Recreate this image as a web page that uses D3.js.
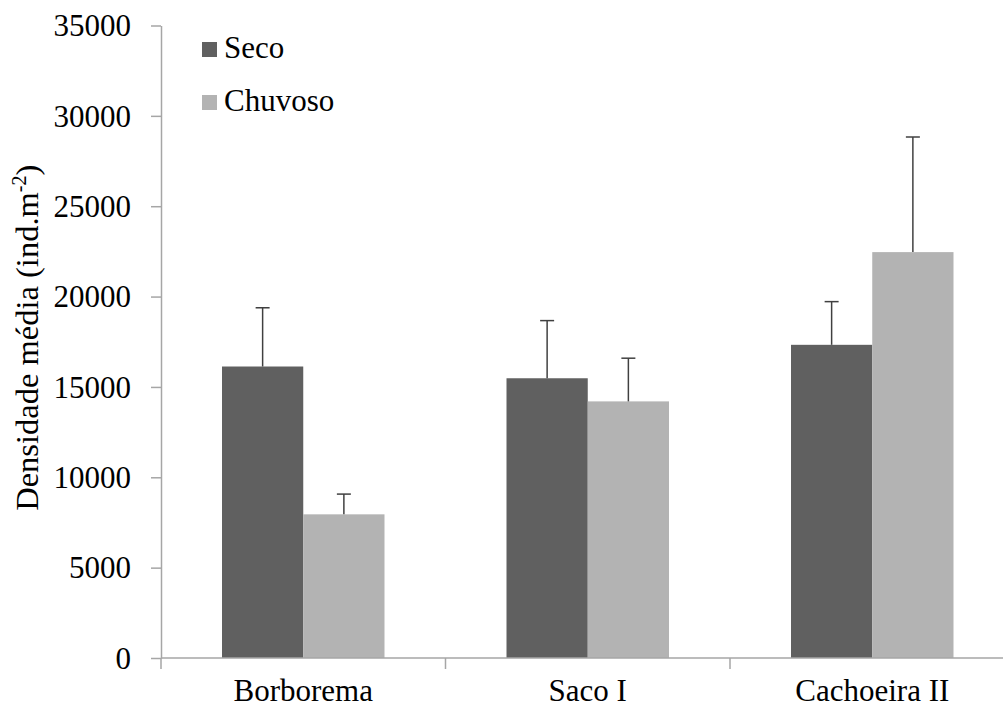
<!DOCTYPE html>
<html lang="pt">
  <head>
    <meta charset="utf-8" />
    <title>Densidade média</title>
    <script src="https://d3js.org/d3.v7.min.js"></script>
    <style>
      body {
        margin: 0;
        background: #fff;
      }
      svg {
        display: block;
        font-family: "Liberation Serif", "Times New Roman", serif;
      }
      .axis path,
      .axis line {
        stroke: #a6a6a6;
        stroke-width: 1.5px;
      }
      .axis text {
        font-family: "Liberation Serif", "Times New Roman", serif;
        font-size: 31px;
        fill: #000;
      }
    </style>
  </head>
  <body>
    <svg id="chart" width="1003" height="707"></svg>
    <script>
      // dados
      const sites = ["Borborema", "Saco I", "Cachoeira II"];
      const series = ["Seco", "Chuvoso"];
      const seco = [16130, 15480, 17330];
      const secoErr = [3250, 3190, 2390];
      const chuvoso = [7950, 14200, 22460];
      const chuvosoErr = [1120, 2390, 6370];
      const yTicks = [0, 5000, 10000, 15000, 20000, 25000, 30000, 35000];
      const colors = { Seco: "#606060", Chuvoso: "#b3b3b3" };

      const svg = d3.select("#chart");
      const mLeft = 161, mBottom = 658, mTop = 25.5, step = 284.5;

      const rows = sites.map((s, i) => ({
        site: s,
        bars: [
          { key: "Seco", value: seco[i], err: secoErr[i] },
          { key: "Chuvoso", value: chuvoso[i], err: chuvosoErr[i] },
        ],
      }));

      const x0 = d3.scaleBand().domain(sites).range([mLeft, mLeft + step * 3]);
      const x1 = d3.scaleBand().domain(series).range([61, 223.5]);
      const y = d3.scaleLinear().domain([0, 35000]).range([mBottom, mTop]);

      // eixo Y
      const yAxis = svg
        .append("g")
        .attr("class", "axis")
        .attr("transform", `translate(${mLeft},0)`)
        .call(d3.axisLeft(y).tickValues(yTicks).tickSize(10).tickSizeOuter(0).tickPadding(20).tickFormat(d3.format("d")));
      yAxis.selectAll("text").attr("dy", "0.33em");

      // barras
      const g = svg
        .append("g")
        .selectAll("g")
        .data(rows)
        .join("g")
        .attr("transform", (d) => `translate(${x0(d.site)},0)`);

      g.selectAll("rect")
        .data((d) => d.bars)
        .join("rect")
        .attr("x", (d) => x1(d.key))
        .attr("width", x1.bandwidth())
        .attr("y", (d) => y(d.value))
        .attr("height", (d) => y(0) - y(d.value))
        .attr("fill", (d) => colors[d.key]);

      // barras de erro
      const eb = g
        .selectAll("g.err")
        .data((d) => d.bars)
        .join("g")
        .attr("class", "err")
        .attr("stroke", "#404040")
        .attr("stroke-width", 1.5);
      eb.append("line")
        .attr("x1", (d) => x1(d.key) + x1.bandwidth() / 2)
        .attr("x2", (d) => x1(d.key) + x1.bandwidth() / 2)
        .attr("y1", (d) => y(d.value))
        .attr("y2", (d) => y(d.value + d.err));
      eb.append("line")
        .attr("x1", (d) => x1(d.key) + x1.bandwidth() / 2 - 7)
        .attr("x2", (d) => x1(d.key) + x1.bandwidth() / 2 + 7)
        .attr("y1", (d) => y(d.value + d.err))
        .attr("y2", (d) => y(d.value + d.err));

      // eixo X
      const xAxis = svg
        .append("g")
        .attr("class", "axis")
        .attr("transform", `translate(0,${mBottom})`)
        .call(d3.axisBottom(x0).tickSize(0).tickPadding(21));
      xAxis.select(".domain").attr("d", `M${mLeft},0H${mLeft + step * 3}`);
      xAxis
        .selectAll(".sep")
        .data(d3.range(4))
        .join("line")
        .attr("class", "sep")
        .attr("x1", (i) => mLeft + i * step)
        .attr("x2", (i) => mLeft + i * step)
        .attr("y1", 0)
        .attr("y2", 11);

      // título do eixo Y
      const yl = svg
        .append("text")
        .attr("transform", `translate(38,${(mTop + mBottom) / 2 - 4}) rotate(-90)`)
        .attr("text-anchor", "middle")
        .attr("font-size", 32.5)
        .text("Densidade média (ind.m");
      yl.append("tspan").attr("font-size", 20).attr("dy", -12).text("-2");
      yl.append("tspan").attr("dy", 12).text(")");

      // legenda
      const leg = svg
        .append("g")
        .selectAll("g")
        .data(series)
        .join("g")
        .attr("transform", (d, i) => `translate(202,${42 + i * 53})`);
      leg.append("rect").attr("width", 15).attr("height", 15).attr("fill", (d) => colors[d]);
      leg.append("text")
        .attr("x", 22)
        .attr("y", 15.5)
        .attr("font-size", 31)
        .text((d) => d);
    </script>
  </body>
</html>
